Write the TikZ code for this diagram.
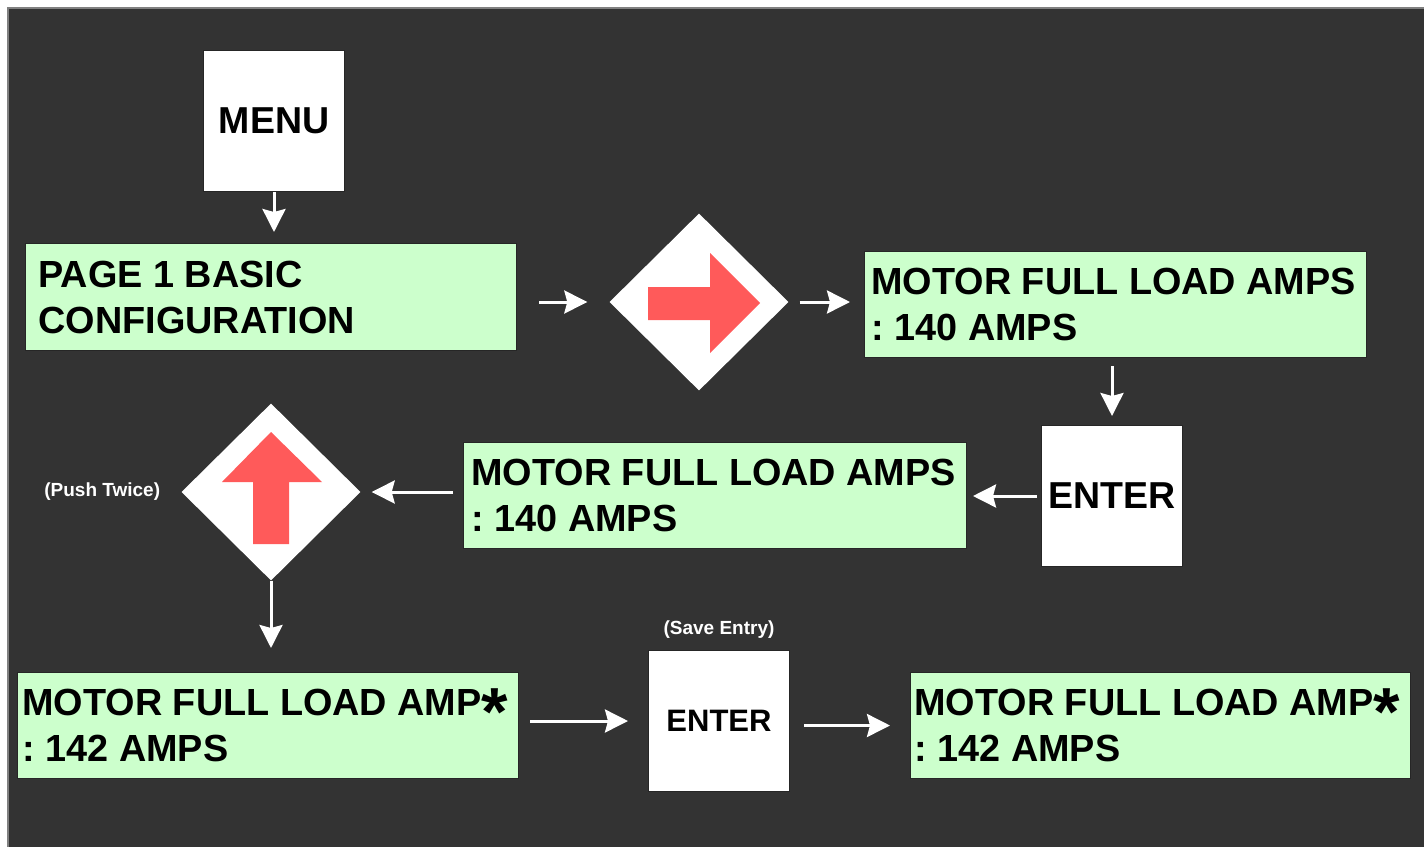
\documentclass[tikz,border=0pt]{standalone}
\usepackage{fontspec}
\setmainfont{Liberation Sans}
\usetikzlibrary{shapes.geometric,arrows.meta,positioning}
\definecolor{panel}{HTML}{333333}
\definecolor{lcdgreen}{HTML}{CCFFCC}
\definecolor{keyred}{RGB}{255,90,90}
\newcommand{\lcdtxt}{\fontsize{37.8}{46}\selectfont\bfseries\frenchspacing}
\newcommand{\keytxt}{\fontsize{37.5}{44}\selectfont\bfseries}
\newcommand{\smallkeytxt}{\fontsize{31}{37}\selectfont\bfseries}
\newcommand{\notetxt}{\fontsize{19}{23}\selectfont\bfseries}
\newcommand{\bigast}{\raisebox{-20pt}[26pt][0pt]{\scalebox{1.8}{*}}}

\begin{document}
\begin{tikzpicture}[x=1pt,y=-1pt,
    lcd/.style={draw=black!85, line width=1pt, fill=lcdgreen, anchor=north west,
        minimum height=106pt, align=flush left, font=\lcdtxt, inner ysep=0pt},
    keybox/.style={draw=black!85, line width=1pt, fill=white, anchor=north west,
        minimum width=141pt, minimum height=141pt, inner sep=0pt, font=\keytxt},
    navkey/.style={diamond, fill=white, minimum width=179pt, minimum height=177pt, inner sep=0pt},
    note/.style={text=white, font=\notetxt, inner sep=0pt},
    flow/.style={draw=white, line width=3pt, -{Stealth[length=23pt,width=23pt,inset=3pt]}}]
    \useasboundingbox (0,0) rectangle (1424,846);
    
    % background panel
    \fill[white] (0,0) rectangle (1424,846);
    \filldraw[fill=panel, draw=gray, line width=1.5pt] (8,8) rectangle (1440,860);
    
    % first row
    \node[keybox] (menu) at (203,50) {MENU};
    \node[lcd, minimum height=107pt, text width=465pt, inner xsep=13pt] (page1) at (25,243) {PAGE 1 BASIC\\CONFIGURATION};
    \node[navkey] (d1) at (699,302) {};
    \node[lcd, text width=488pt, inner xsep=7pt] (m1) at (864,251) {MOTOR FULL LOAD AMPS\\: 140 AMPS};
    
    % second row
    \node[keybox] (e1) at (1041,425) {ENTER};
    \node[lcd, text width=487pt, inner xsep=8pt] (m2) at (463,442) {MOTOR FULL LOAD AMPS\\: 140 AMPS};
    \node[navkey] (d2) at (271,492) {};
    \node[note, left=21pt of d2] (push) {(Push Twice)};
    
    % third row
    \node[lcd, text width=491pt, inner xsep=5pt] (m3) at (17,672) {MOTOR FULL LOAD AMP\bigast\\: 142 AMPS};
    \node[keybox, font=\smallkeytxt] (e2) at (648,650) {ENTER};
    \node[note, above=11pt of e2] (save) {(Save Entry)};
    \node[lcd, text width=492pt, inner xsep=4pt] (m4) at (910,672) {MOTOR FULL LOAD AMP\bigast\\: 142 AMPS};
    
    % red arrow keys
    \begin{scope}[shift={(d1.center)}]
        \fill[keyred] (-51,-15) -- (11,-15) -- (11,-49) -- (61,1) -- (11,51) -- (11,18) -- (-51,18) -- cycle;
    \end{scope}
    \begin{scope}[shift={(d2.center)}]
        \fill[keyred] (0,-60) -- (51,-10) -- (18,-10) -- (18,52) -- (-18,52) -- (-18,-10) -- (-49,-10) -- cycle;
    \end{scope}
    
    % connectors
    \draw[flow, shorten >=11pt] (menu.south) -- (menu.south |- page1.north);
    \draw[flow, shorten <=22pt, shorten >=22pt] (page1.east |- d1.west) -- (d1.west);
    \draw[flow, shorten <=11pt, shorten >=14pt] (d1.east) -- (m1.west |- d1.east);
    \draw[flow, shorten <=8pt, shorten >=9pt] (e1.north |- m1.south) -- (e1.north);
    \draw[flow, shorten <=4pt, shorten >=6pt] (e1.west) -- (m2.east |- e1.west);
    \draw[flow, shorten <=10pt, shorten >=11pt] (m2.west |- d2.east) -- (d2.east);
    \draw[flow, shorten >=24pt] (d2.south) -- (d2.south |- m3.north);
    \draw[flow, shorten <=11pt, shorten >=20pt] (m3.east |- e2.west) -- (e2.west);
    \draw[flow, shorten <=14pt, shorten >=20pt] (e2.east |- m4.west) -- (m4.west);
\end{tikzpicture}
\end{document}
